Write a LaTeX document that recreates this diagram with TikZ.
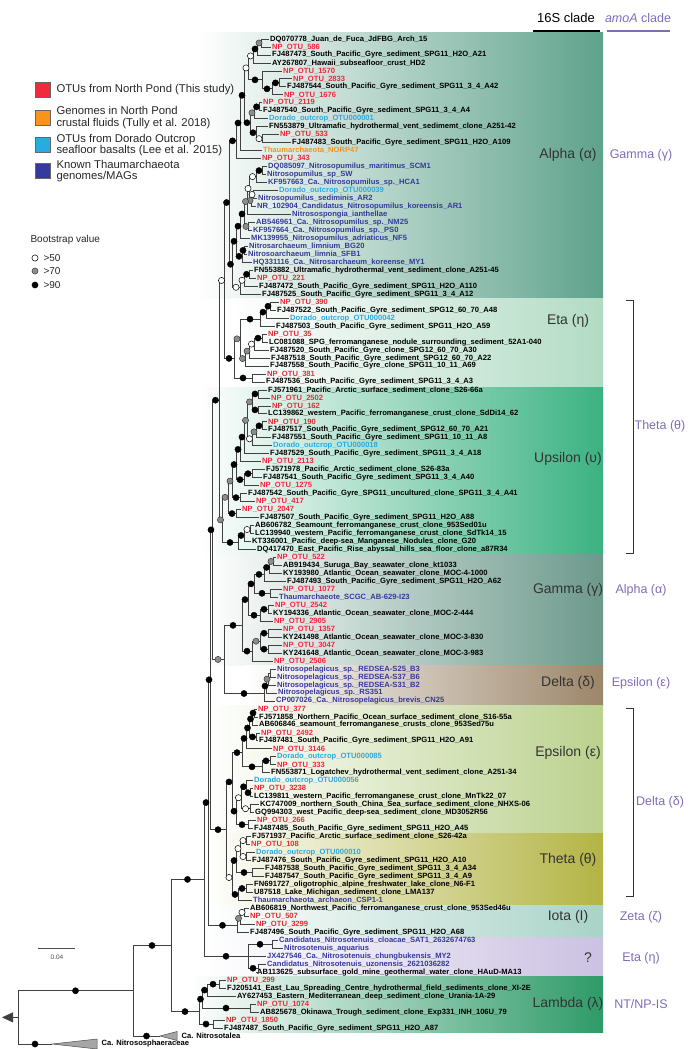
\documentclass[tikz,border=0pt]{standalone}
\usepackage{fontspec}
\setmainfont{Liberation Sans}
\usetikzlibrary{arrows.meta,calc}

\definecolor{npred}{HTML}{EE2A3C}
\definecolor{dorcyan}{HTML}{29ABE2}
\definecolor{refblue}{HTML}{353A9C}
\definecolor{nororange}{HTML}{F7941D}
\definecolor{amoapurple}{HTML}{7F6DB8}
\definecolor{alphac}{HTML}{5FA28C}
\definecolor{etac}{HTML}{B2DBC4}
\definecolor{upsc}{HTML}{3BB282}
\definecolor{gammac}{HTML}{6C998B}
\definecolor{deltac}{HTML}{9C866A}
\definecolor{epsc}{HTML}{BBD18E}
\definecolor{thetac}{HTML}{B3B444}
\definecolor{iotac}{HTML}{A9D3C7}
\definecolor{unkc}{HTML}{CBC1E2}
\definecolor{lambdac}{HTML}{2E9A68}

% join two children at x, put support dots on their stems
\newcommand{\jn}[6]{%
  \coordinate (jtmp) at ($(#3)!0.5!(#5)$);
  \coordinate (#1) at (#2,0 |- jtmp);
  \draw[br] (#1) |- (#3);
  \draw[br] (#1) |- (#5);
  \path (#1 |- #3) -- (#3) node[#4, midway] {};
  \path (#1 |- #5) -- (#5) node[#6, midway] {};
}
% extra child
\newcommand{\ja}[3]{%
  \draw[br] (#1) |- (#2);
  \path (#1 |- #2) -- (#2) node[#3, midway] {};
}

\begin{document}
\catcode`\_=12
\begin{tikzpicture}[x=1pt, y=-1pt,
    br/.style={draw=black!75, line width=0.8pt},
    bsb/.style={circle, draw=black, fill=black, inner sep=0pt, minimum size=6.2pt},
    bsg/.style={circle, draw=black!85, fill=black!45, inner sep=0pt, minimum size=6.2pt},
    bsw/.style={circle, draw=black, fill=white, inner sep=0pt, minimum size=6.2pt, line width=0.5pt},
    n/.style={inner sep=0pt, minimum size=0pt},
    lf/.style={anchor=west, inner xsep=1.5pt, inner ysep=0pt, font=\bfseries\fontsize{7.6}{8}\selectfont},
    clade/.style={font=\fontsize{14}{16}\selectfont, text=black!80},
    amoa/.style={font=\fontsize{12.5}{14}\selectfont, text=amoapurple},
    legtext/.style={anchor=west, align=left, font=\fontsize{11.3}{11.7}\selectfont, text=black!85},
    legbox/.style={draw=black!60, line width=0.4pt, minimum size=15pt, inner sep=0pt}
]
\useasboundingbox (0,0) rectangle (693,1049);

% clade shading
\shade[left color=white, right color=alphac] (197,33) rectangle (603,298);
\shade[left color=white, right color=etac] (230,298) rectangle (603,387);
\shade[left color=white, right color=upsc] (200,387) rectangle (603,554);
\shade[left color=white, right color=gammac] (205,554) rectangle (603,665);
\shade[left color=white, right color=deltac] (245,665) rectangle (603,705);
\shade[left color=white, right color=epsc] (205,705) rectangle (603,833);
\shade[left color=white, right color=thetac] (205,833) rectangle (603,905);
\shade[left color=white, right color=iotac] (205,905) rectangle (603,937);
\shade[left color=white, right color=unkc] (205,937) rectangle (603,976);
\shade[left color=white, right color=lambdac] (190,976) rectangle (603,1032);

% leaves
\foreach \i/\x/\c/\t in {
1/270/black/DQ070778_Juan_de_Fuca_JdFBG_Arch_15,
2/272/npred/NP_OTU_586,
3/272/black/FJ487473_South_Pacific_Gyre_sediment_SPG11_H2O_A21,
4/272/black/AY267807_Hawaii_subseafloor_crust_HD2,
5/283/npred/NP_OTU_1570,
6/293/npred/NP_OTU_2833,
7/287/black/FJ487544_South_Pacific_Gyre_sediment_SPG11_3_4_A42,
8/284/npred/NP_OTU_1676,
9/263/npred/NP_OTU_2119,
10/263/black/FJ487540_South_Pacific_Gyre_sediment_SPG11_3_4_A4,
11/269/dorcyan/Dorado_outcrop_OTU000001,
12/269/black/FN553879_Ultramafic_hydrothermal_vent_sedimemt_clone_A251-42,
13/280/npred/NP_OTU_533,
14/292/black/FJ487483_South_Pacific_Gyre_sediment_SPG11_H2O_A109,
15/263/nororange/Thaumarchaeota_NORP47,
16/262/npred/NP_OTU_343,
17/268/refblue/DQ085097_Nitrosopumilus_maritimus_SCM1,
18/267/refblue/Nitrosopumilus_sp_SW,
19/268/refblue/KF957663_Ca._Nitrosopumilus_sp._HCA1,
20/279/dorcyan/Dorado_outcrop_OTU000039,
21/258/refblue/Nitrosopumilus_sediminis_AR2,
22/257/refblue/NR_102904_Candidatus_Nitrosopumilus_koreensis_AR1,
23/292/refblue/Nitrosospongia_ianthellae,
24/256/refblue/AB546961_Ca._Nitrosopumilus_sp._NM25,
25/253/refblue/KF957664_Ca._Nitrosopumilus_sp._PS0,
26/251/refblue/MK139955_Nitrosopumilus_adriaticus_NF5,
27/249/refblue/Nitrosarchaeum_limnium_BG20,
28/248/refblue/Nitrosoarchaeum_limnia_SFB1,
29/253/refblue/HQ331116_Ca._Nitrosarchaeum_koreense_MY1,
30/254/black/FN553882_Ultramafic_hydrothermal_vent_sediment_clone_A251-45,
31/257/npred/NP_OTU_221,
32/259/black/FJ487472_South_Pacific_Gyre_sediment_SPG11_H2O_A110,
33/262/black/FJ487525_South_Pacific_Gyre_sediment_SPG11_3_4_A12,
34/280/npred/NP_OTU_390,
35/277/black/FJ487522_South_Pacific_Gyre_sediment_SPG12_60_70_A48,
36/290/dorcyan/Dorado_outcrop_OTU000042,
37/276/black/FJ487503_South_Pacific_Gyre_sediment_SPG11_H2O_A59,
38/268/npred/NP_OTU_35,
39/269/black/LC081088_SPG_ferromanganese_nodule_surrounding_sediment_52A1-040,
40/270/black/FJ487520_South_Pacific_Gyre_clone_SPG12_60_70_A30,
41/271/black/FJ487518_South_Pacific_Gyre_sediment_SPG12_60_70_A22,
42/270/black/FJ487558_South_Pacific_Gyre_clone_SPG11_10_11_A69,
43/267/npred/NP_OTU_381,
44/266/black/FJ487536_South_Pacific_Gyre_sediment_SPG11_3_4_A3,
45/268/black/FJ571961_Pacific_Arctic_surface_sediment_clone_S26-66a,
46/271/npred/NP_OTU_2502,
47/272/npred/NP_OTU_162,
48/268/black/LC139862_western_Pacific_ferromanganese_crust_clone_SdDi14_62,
49/268/npred/NP_OTU_190,
50/268/black/FJ487517_South_Pacific_Gyre_sediment_SPG12_60_70_A21,
51/272/black/FJ487551_South_Pacific_Gyre_sediment_SPG11_10_11_A8,
52/273/dorcyan/Dorado_outcrop_OTU000018,
53/270/black/FJ487529_South_Pacific_Gyre_sediment_SPG11_3_4_A18,
54/262/npred/NP_OTU_2113,
55/266/black/FJ571978_Pacific_Arctic_sediment_clone_S26-83a,
56/263/black/FJ487541_South_Pacific_Gyre_sediment_SPG11_3_4_A40,
57/260/npred/NP_OTU_1275,
58/248/black/FJ487542_South_Pacific_Gyre_SPG11_uncultured_clone_SPG11_3_4_A41,
59/256/npred/NP_OTU_417,
60/242/npred/NP_OTU_2047,
61/260/black/FJ487507_South_Pacific_Gyre_sediment_SPG11_H2O_A88,
62/255/black/AB606782_Seamount_ferromanganese_crust_clone_953Sed01u,
63/255/black/LC139940_western_Pacific_ferromanganese_crust_clone_SdTk14_15,
64/252/black/KT336001_Pacific_deep-sea_Manganese_Nodules_clone_G20,
65/257/black/DQ417470_East_Pacific_Rise_abyssal_hills_sea_floor_clone_a87R34,
66/277/npred/NP_OTU_522,
67/283/black/AB919434_Suruga_Bay_seawater_clone_kt1033,
68/283/black/KY193980_Atlantic_Ocean_seawater_clone_MOC-4-1000,
69/287/black/FJ487493_South_Pacific_Gyre_sediment_SPG11_H2O_A62,
70/283/npred/NP_OTU_1077,
71/279/refblue/Thaumarchaeote_SCGC_AB-629-I23,
72/275/npred/NP_OTU_2542,
73/273/black/KY194336_Atlantic_Ocean_seawater_clone_MOC-2-444,
74/274/npred/NP_OTU_2905,
75/283/npred/NP_OTU_1357,
76/283/black/KY241498_Atlantic_Ocean_seawater_clone_MOC-3-830,
77/283/npred/NP_OTU_3047,
78/283/black/KY241648_Atlantic_Ocean_seawater_clone_MOC-3-983,
79/274/npred/NP_OTU_2506,
80/277/refblue/Nitrosopelagicus_sp._REDSEA-S25_B3,
81/277/refblue/Nitrosopelagicus_sp._REDSEA-S37_B6,
82/277/refblue/Nitrosopelagicus_sp._REDSEA-S31_B2,
83/278/refblue/Nitrosopelagicus_sp._RS351,
84/276/refblue/CP007026_Ca._Nitrosopelagicus_brevis_CN25,
85/258/npred/NP_OTU_377,
86/259/black/FJ571858_Northern_Pacific_Ocean_surface_sediment_clone_S16-55a,
87/259/black/AB606846_seamount_ferromanganese_crusts_clone_953Sed75u,
88/261/npred/NP_OTU_2492,
89/259/black/FJ487481_South_Pacific_Gyre_sediment_SPG11_H2O_A91,
90/273/npred/NP_OTU_3146,
91/277/dorcyan/Dorado_outcrop_OTU000085,
92/277/npred/NP_OTU_333,
93/271/black/FN553871_Logatchev_hydrothermal_vent_sediment_clone_A251-34,
94/254/dorcyan/Dorado_outcrop_OTU000056,
95/254/npred/NP_OTU_3238,
96/254/black/LC139811_western_Pacific_ferromanganese_crust_clone_MnTk22_07,
97/260/black/KC747009_northern_South_China_Sea_surface_sediment_clone_NHXS-06,
98/255/black/GQ994303_west_Pacific_deep-sea_sediment_clone_MD3052R56,
99/257/npred/NP_OTU_266,
100/254/black/FJ487485_South_Pacific_Gyre_sediment_SPG11_H2O_A45,
101/252/black/FJ571937_Pacific_Arctic_surface_sediment_clone_S26-42a,
102/251/npred/NP_OTU_108,
103/256/dorcyan/Dorado_outcrop_OTU000010,
104/252/black/FJ487476_South_Pacific_Gyre_sediment_SPG11_H2O_A10,
105/265/black/FJ487538_South_Pacific_Gyre_sediment_SPG11_3_4_A34,
106/265/black/FJ487547_South_Pacific_Gyre_sediment_SPG11_3_4_A9,
107/254/black/FN691727_oligotrophic_alpine_freshwater_lake_clone_N6-F1,
108/254/black/U87518_Lake_Michigan_sediment_clone_LMA137,
109/253/refblue/Thaumarchaeota_archaeon_CSP1-1,
110/250/black/AB606819_Northwest_Pacific_ferromanganese_crust_clone_953Sed46u,
111/250/npred/NP_OTU_507,
112/256/npred/NP_OTU_3299,
113/250/black/FJ487496_South_Pacific_Gyre_sediment_SPG11_H2O_A68,
114/279/refblue/Candidatus_Nitrosotenuis_cloacae_SAT1_2632674763,
115/284/refblue/Nitrosotenuis_aquarius,
116/267/refblue/JX427546_Ca._Nitrosotenuis_chungbukensis_MY2,
117/267/refblue/Candidatus_Nitrosotenuis_uzonensis_2621036282,
118/257/black/AB113625_subsurface_gold_mine_geothermal_water_clone_HAuD-MA13,
119/227/npred/NP_OTU_299,
120/227/black/FJ205141_East_Lau_Spreading_Centre_hydrothermal_field_sediments_clone_XI-2E,
121/237/black/AY627453_Eastern_Mediterranean_deep_sediment_clone_Urania-1A-29,
122/257/npred/NP_OTU_1074,
123/260/black/AB825678_Okinawa_Trough_sediment_clone_Exp331_INH_106U_79,
124/226/npred/NP_OTU_1850,
125/224/black/FJ487487_South_Pacific_Gyre_sediment_SPG11_H2O_A87}{
  \pgfmathsetmacro\yy{39+(\i-1)*7.976}
  \coordinate (t\i) at (\x-1.5,\yy);
  \node[lf, text=\c] (lb\i) at (t\i) {\t};
}

% Alpha
\jn{a1}{261}{t1}{n}{t2}{n}
\jn{a2}{257}{a1}{bsg}{t3}{n}
\jn{a3}{253}{a2}{bsb}{t4}{n}
\jn{a4}{279}{t6}{n}{t7}{n}
\jn{a5}{272}{a4}{bsb}{t8}{n}
\jn{a6}{262}{t5}{n}{a5}{bsb}
\jn{a7}{248}{a3}{bsw}{a6}{bsb}
\jn{a8}{259}{t9}{n}{t10}{n}
\jn{a9}{254}{a8}{bsb}{t11}{n}
\jn{a10}{262}{t13}{n}{t14}{n}
\jn{a11}{256}{t12}{n}{a10}{bsw}
\jn{a12}{250}{a9}{bsg}{a11}{bsb}
\jn{a13}{244}{a7}{bsw}{a12}{bsb}
\jn{a14}{240}{a13}{bsb}{t15}{n}
\jn{a15}{236}{a14}{bsb}{t16}{n}
\jn{a16}{262}{t17}{n}{t18}{n}
\jn{a17}{256}{a16}{bsb}{t19}{n}
\jn{a18}{253}{t20}{n}{t21}{n}
\jn{a19}{251}{a18}{bsw}{t22}{n}
\jn{a20}{249}{a17}{bsw}{a19}{bsg}
\jn{a21}{247}{a20}{bsw}{t23}{n}
\jn{a22}{248}{t24}{n}{t25}{n}
\jn{a23}{244}{a21}{bsg}{a22}{bsg}
\jn{a24}{240}{a23}{bsb}{t26}{n}
\jn{a25}{244}{t27}{n}{t28}{n}
\jn{a26}{242}{a25}{bsb}{t29}{n}
\jn{a27}{236}{a24}{bsb}{a26}{bsb}
\jn{a28}{249}{t30}{n}{t31}{n}
\jn{a29}{244}{a28}{bsb}{t32}{n}
\jn{a30}{240}{a29}{bsw}{t33}{n}
\jn{a31}{232}{a27}{bsb}{a30}{bsw}
\jn{alpha}{229}{a15}{bsb}{a31}{bsb}

% Eta
\jn{e1}{270}{t34}{n}{t35}{n}
\jn{e2}{266}{e1}{bsb}{t36}{n}
\jn{e3}{260}{e2}{bsb}{t37}{n}
\jn{e4}{262}{t38}{n}{t39}{n}
\jn{e5}{254}{e4}{bsb}{t40}{n}
\jn{e6}{249}{e5}{bsw}{t41}{n}
\jn{e7}{245}{e6}{bsg}{t42}{n}
\jn{e8}{240}{e3}{bsb}{e7}{bsg}
\jn{e9}{252}{t43}{n}{t44}{n}
\jn{eta}{234}{e8}{bsg}{e9}{bsb}
\jn{ae}{224}{alpha}{bsb}{eta}{bsb}

% Upsilon
\jn{u1}{258}{t45}{n}{t46}{n}
\jn{u2}{258}{t47}{n}{t48}{n}
\jn{u3}{252}{u1}{bsb}{u2}{bsb}
\jn{u4}{262}{t49}{n}{t50}{n}
\jn{u5}{256}{u4}{bsb}{t51}{n}
\jn{u6}{252}{u5}{bsg}{t52}{n}
\jn{u7}{247}{u3}{bsg}{u6}{bsw}
\jn{u8}{244}{u7}{bsg}{t53}{n}
\jn{u9}{240}{u8}{bsb}{t54}{n}
\jn{u10}{252}{t55}{n}{t56}{n}
\jn{u11}{244}{u10}{bsb}{t57}{n}
\jn{u12}{236}{u9}{bsb}{u11}{bsb}
\jn{u13}{240}{t58}{n}{t59}{n}
\jn{u14}{232}{u12}{bsb}{u13}{bsb}
\jn{u15}{236}{t60}{n}{t61}{n}
\jn{u16}{228}{u14}{bsg}{u15}{bsb}
\jn{u17}{250}{t62}{n}{t63}{n}
\jn{u18}{244}{u17}{bsw}{t64}{n}
\jn{u19}{238}{u18}{bsb}{t65}{n}
\jn{ups}{222}{u16}{bsg}{u19}{bsb}

% Gamma
\jn{g1}{273}{t66}{n}{t67}{n}
\jn{g2}{269}{g1}{bsg}{t68}{n}
\jn{g3}{264}{g2}{bsb}{t69}{n}
\jn{g4}{270}{t70}{n}{t71}{n}
\jn{g5}{254}{g3}{bsb}{g4}{bsb}
\jn{g6}{268}{t72}{n}{t73}{n}
\jn{g7}{260}{g6}{bsb}{t74}{n}
\jn{g8}{248}{g5}{bsb}{g7}{bsb}
\jn{g9}{268}{t75}{n}{t76}{n}
\jn{g10}{268}{t77}{n}{t78}{n}
\jn{g11}{260}{g9}{bsb}{g10}{bsb}
\jn{g12}{252}{g11}{bsg}{t79}{n}
\jn{gam}{242}{g8}{bsb}{g12}{bsb}

% Delta
\jn{d1}{270}{t80}{n}{t81}{n}
\jn{d2}{268}{d1}{n}{t82}{n}
\jn{d3}{266}{d2}{bsg}{t83}{n}
\jn{d4}{264}{d3}{bsb}{t84}{n}
\jn{gd}{224}{gam}{bsb}{d4}{bsb}

% Epsilon
\jn{p1}{254}{t85}{n}{t86}{n}
\jn{p2}{252}{p1}{bsb}{t87}{n}
\jn{p3}{256}{t88}{n}{t89}{n}
\jn{p4}{249}{p2}{bsb}{p3}{bsb}
\jn{p5}{246}{p4}{bsb}{t90}{n}
\jn{p6}{270}{t91}{n}{t92}{n}
\jn{p7}{262}{p6}{bsb}{t93}{n}
\jn{p8}{242}{p5}{bsb}{p7}{bsb}
\jn{p9}{250}{t95}{n}{t96}{n}
\jn{p10}{246}{t94}{n}{p9}{bsb}
\jn{p11}{250}{t97}{n}{t98}{n}
\jn{p12}{241}{p10}{bsb}{p11}{bsw}
\jn{p13}{248}{t99}{n}{t100}{n}
\jn{p14}{236}{p12}{bsw}{p13}{bsb}
\jn{eps}{232}{p8}{bsb}{p14}{bsb}

% Theta
\jn{h1}{246}{t101}{n}{t102}{n}
\jn{h2}{246}{t103}{n}{t104}{n}
\jn{h3}{240}{h1}{bsw}{h2}{bsw}
\jn{h4}{252}{t105}{n}{t106}{n}
\jn{h5}{236}{h3}{bsw}{h4}{bsb}
\jn{h6}{246}{t107}{n}{t108}{n}
\jn{h7}{238}{h6}{bsb}{t109}{n}
\jn{the}{232}{h5}{bsb}{h7}{bsb}
\jn{et}{226}{eps}{bsb}{the}{bsw}

% Iota
\jn{i1}{244}{t110}{n}{t111}{n}
\jn{i2}{240}{i1}{bsw}{t112}{n}
\jn{iot}{237}{i2}{bsg}{t113}{n}

% Nitrosotenuis
\jn{nt1}{272}{t114}{n}{t115}{n}
\jn{nt3}{258}{t117}{n}{t118}{n}
\jn{nt}{248}{nt1}{bsb}{nt3}{bsb}
\ja{nt}{t116}{n}

% Lambda
\jn{l1}{219}{t119}{n}{t120}{n}
\jn{l2}{207}{l1}{bsb}{t121}{n}
\jn{l4}{250}{t122}{n}{t123}{n}
\jn{l3}{202}{l2}{bsb}{l4}{bsb}
\jn{l5}{213}{t124}{n}{t125}{n}
\jn{lam}{199}{l3}{bsb}{l5}{bsb}

% backbone
\jn{zf}{219}{ae}{bsw}{ups}{bsg}
\jn{ze}{212}{zf}{bsb}{gd}{bsg}
\jn{zd}{210}{ze}{bsb}{et}{bsb}
\jn{zc}{208}{zd}{bsb}{iot}{bsb}
\jn{zb}{204}{zc}{bsb}{nt}{bsb}
\jn{za}{171}{zb}{bsb}{lam}{bsb}

% outgroups
\coordinate (talea) at (160,1036);
\coordinate (soph) at (52,1044);
\fill[black!35, draw=black!70, line width=0.5pt] (talea) -- (177,1031.5) -- (177,1040.5) -- cycle;
\fill[black!35, draw=black!70, line width=0.5pt] (soph) -- (97,1039) -- (97,1049) -- cycle;
\node[lf] (lbtalea) at (180,1036) {Ca. Nitrosotalea};
\node[lf] (lbsoph) at (100,1044) {Ca. Nitrososphaeraceae};
\jn{r1}{133}{za}{bsb}{talea}{bsb}
\jn{root}{18}{r1}{bsb}{soph}{bsb}
\coordinate (rootend) at (2,0 |- root);
\draw[br, -{Triangle[length=11pt, width=10pt]}] (root) -- (rootend);

% scale bar
\draw[black!70, line width=0.8pt] (38,948) coordinate (sb1) -- (75,948) coordinate (sb2);
\node[font=\fontsize{6.5}{7}\selectfont, text=black!70] (sblab) at (57,957) {0.04};

% clade labels
\node[clade] (c1) at (568,155) {Alpha (α)};
\node[clade] (c2) at (568,321) {Eta (η)};
\node[clade] (c3) at (568,459) {Upsilon (υ)};
\node[clade] (c4) at (568,590) {Gamma (γ)};
\node[clade] (c5) at (568,683) {Delta (δ)};
\node[clade] (c6) at (568,753) {Epsilon (ε)};
\node[clade] (c7) at (568,860) {Theta (θ)};
\node[clade] (c8) at (568,917) {Iota (I)};
\node[clade] (c9) at (588,958) {?};
\node[clade] (c10) at (568,1004) {Lambda (λ)};

\node[amoa] (m1) at (641,155) {Gamma (γ)};
\node[amoa] (m2) at (660,426) {Theta (θ)};
\node[amoa] (m3) at (641,590) {Alpha (α)};
\node[amoa] (m4) at (641,683) {Epsilon (ε)};
\node[amoa] (m5) at (660,802) {Delta (δ)};
\node[amoa] (m6) at (641,917) {Zeta (ζ)};
\node[amoa] (m7) at (641,958) {Eta (η)};
\node[amoa] (m8) at (641,1004) {NT/NP-IS};

\draw[black!80, line width=0.8pt] (626,300) -- (633,300) -- (633,553) -- (626,553);
\draw[black!80, line width=0.8pt] (626,708) -- (633,708) -- (633,896) -- (626,896);

% header
\draw[black, line width=2.5pt] (533,31) -- (600,31);
\draw[amoapurple, line width=2.5pt] (607,31) -- (670,31);
\node[font=\fontsize{13}{14}\selectfont] (h16s) at (566,18) {16S clade};
\node[amoa] (hamoa) at (638,18) {\textit{amoA} clade};

% legend
\node[legbox, fill=npred] (k1) at (42.5,90) {};
\node[legbox, fill=nororange] (k2) at (42.5,117.5) {};
\node[legbox, fill=dorcyan] (k3) at (42.5,145) {};
\node[legbox, fill=refblue] (k4) at (42.5,171) {};
\node[legtext] (k1t) at (53,90) {OTUs from North Pond (This study)};
\node[legtext] (k2t) at (53,117.5) {Genomes in North Pond\\crustal fluids (Tully et al. 2018)};
\node[legtext] (k3t) at (53,145) {OTUs from Dorado Outcrop\\seafloor basalts (Lee et al. 2015)};
\node[legtext] (k4t) at (53,171) {Known Thaumarchaeota\\genomes/MAGs};

\node[legtext, font=\fontsize{10}{11}\selectfont] (bstitle) at (27,240) {Bootstrap value};
\node[bsw] (bs1) at (35,258) {};
\node[bsg] (bs2) at (35,271) {};
\node[bsb] (bs3) at (35,285) {};
\node[legtext, font=\fontsize{10}{11}\selectfont] at (40,258) {>50};
\node[legtext, font=\fontsize{10}{11}\selectfont] at (40,271) {>70};
\node[legtext, font=\fontsize{10}{11}\selectfont] at (40,285) {>90};
\end{tikzpicture}
\end{document}
